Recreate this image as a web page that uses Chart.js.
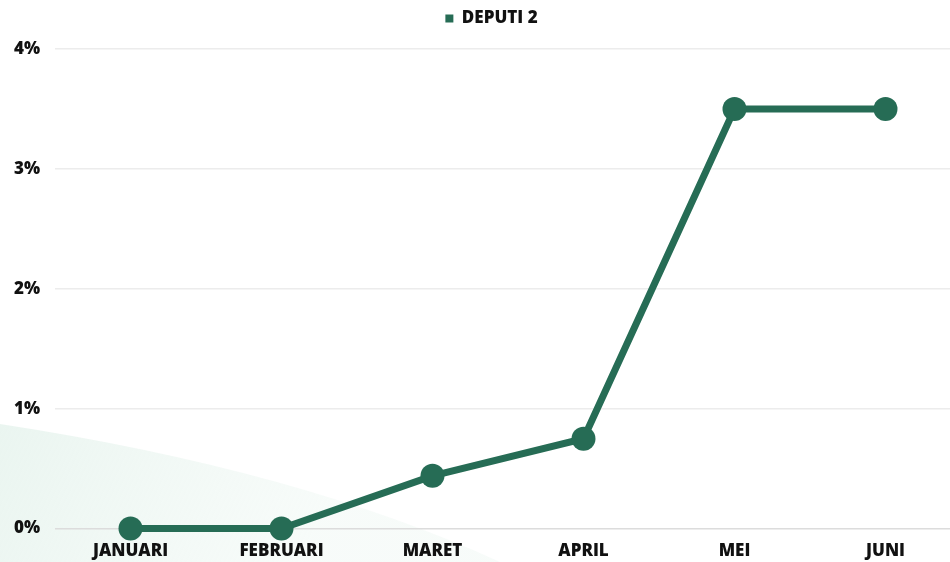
<!DOCTYPE html>
<html>
<head>
<meta charset="utf-8">
<script src="https://cdn.jsdelivr.net/npm/chart.js@4"></script>
<style>
  html, body { margin: 0; padding: 0; background: #fff; overflow: hidden; }
  #wrap { position: relative; width: 950px; height: 562px; overflow: hidden; }
  #chart { position: absolute; left: 0; top: 0; display: block; }
</style>
</head>
<body>
<div id="wrap"><canvas id="chart" width="961" height="562"></canvas></div>
<script>
/* ── Data ─────────────────────────────────────────────────────── */
const months     = ['JANUARI', 'FEBRUARI', 'MARET', 'APRIL', 'MEI', 'JUNI'];
const deputi2    = [0, 0, 0.44, 0.75, 3.5, 3.5];
const seriesName = 'DEPUTI 2';
const yTicks     = [0, 1, 2, 3, 4];

const GREEN = '#266c55';
const FONT  = "'Open Sans', sans-serif";

/* soft mint wash in the lower-left corner */
const backdrop = {
  id: 'backdrop',
  beforeDraw(c) {
    const ctx = c.ctx;
    ctx.save();
    const g = ctx.createLinearGradient(0, 420, 300, 562);
    g.addColorStop(0, 'rgba(234,245,240,1)');
    g.addColorStop(1, 'rgba(244,250,247,0.7)');
    ctx.fillStyle = g;
    ctx.beginPath();
    ctx.moveTo(0, 424);
    ctx.quadraticCurveTo(300, 470, 500, 562);
    ctx.lineTo(0, 562);
    ctx.closePath();
    ctx.fill();
    ctx.restore();
  },
};

/* legend: a bit more room below it, nudged right like the original */
const legendTweak = {
  id: 'legendTweak',
  beforeInit(c) {
    const fit = c.legend.fit;
    c.legend.fit = function () {
      fit.call(this);
      this.height += 12;
    };
  },
  afterLayout(c) {
    c.legend.left += 11;
    c.legend.right += 11;
  },
};

new Chart(document.getElementById('chart'), {
  type: 'line',
  data: {
    labels: months,
    datasets: [{
      label: seriesName,
      data: deputi2,
      borderColor: GREEN,
      backgroundColor: GREEN,
      borderWidth: 7,
      pointRadius: 12,
      pointHoverRadius: 12,
      pointBackgroundColor: GREEN,
      pointBorderWidth: 0,
      tension: 0,
      fill: false,
      clip: false,
    }],
  },
  options: {
    responsive: false,
    animation: false,
    layout: { autoPadding: false, padding: 0 },
    plugins: {
      legend: {
        position: 'top',
        labels: {
          color: '#111',
          font: { family: FONT, size: 17, weight: '800' },
          boxWidth: 8,
          boxHeight: 8,
          padding: 10,
          generateLabels: (chart) =>
            Chart.defaults.plugins.legend.labels.generateLabels(chart)
              .map(l => ({ ...l, lineWidth: 0 })),
        },
      },
      tooltip: { enabled: false },
    },
    scales: {
      x: {
        offset: true,
        afterFit: (axis) => { axis.height -= 11; },
        grid: { display: false, drawTicks: false },
        border: { display: false },
        ticks: {
          color: '#111',
          padding: 12,
          maxRotation: 0,
          font: { family: FONT, size: 17, weight: '800' },
        },
      },
      y: {
        min: 0,
        max: 4,
        afterFit: (axis) => { axis.width = 55; },
        afterBuildTicks: (axis) => { axis.ticks = yTicks.map(v => ({ value: v })); },
        grid: {
          drawTicks: false,
          color: (ctx) => ctx.tick && ctx.tick.value === 0 ? '#dcdcdc' : '#ececec',
          lineWidth: 1.5,
        },
        border: { display: false },
        ticks: {
          color: '#111',
          padding: 15,
          font: { family: FONT, size: 17, weight: '800' },
          callback: (v) => v + '%',
        },
      },
    },
  },
  plugins: [backdrop, legendTweak],
});
</script>
</body>
</html>
